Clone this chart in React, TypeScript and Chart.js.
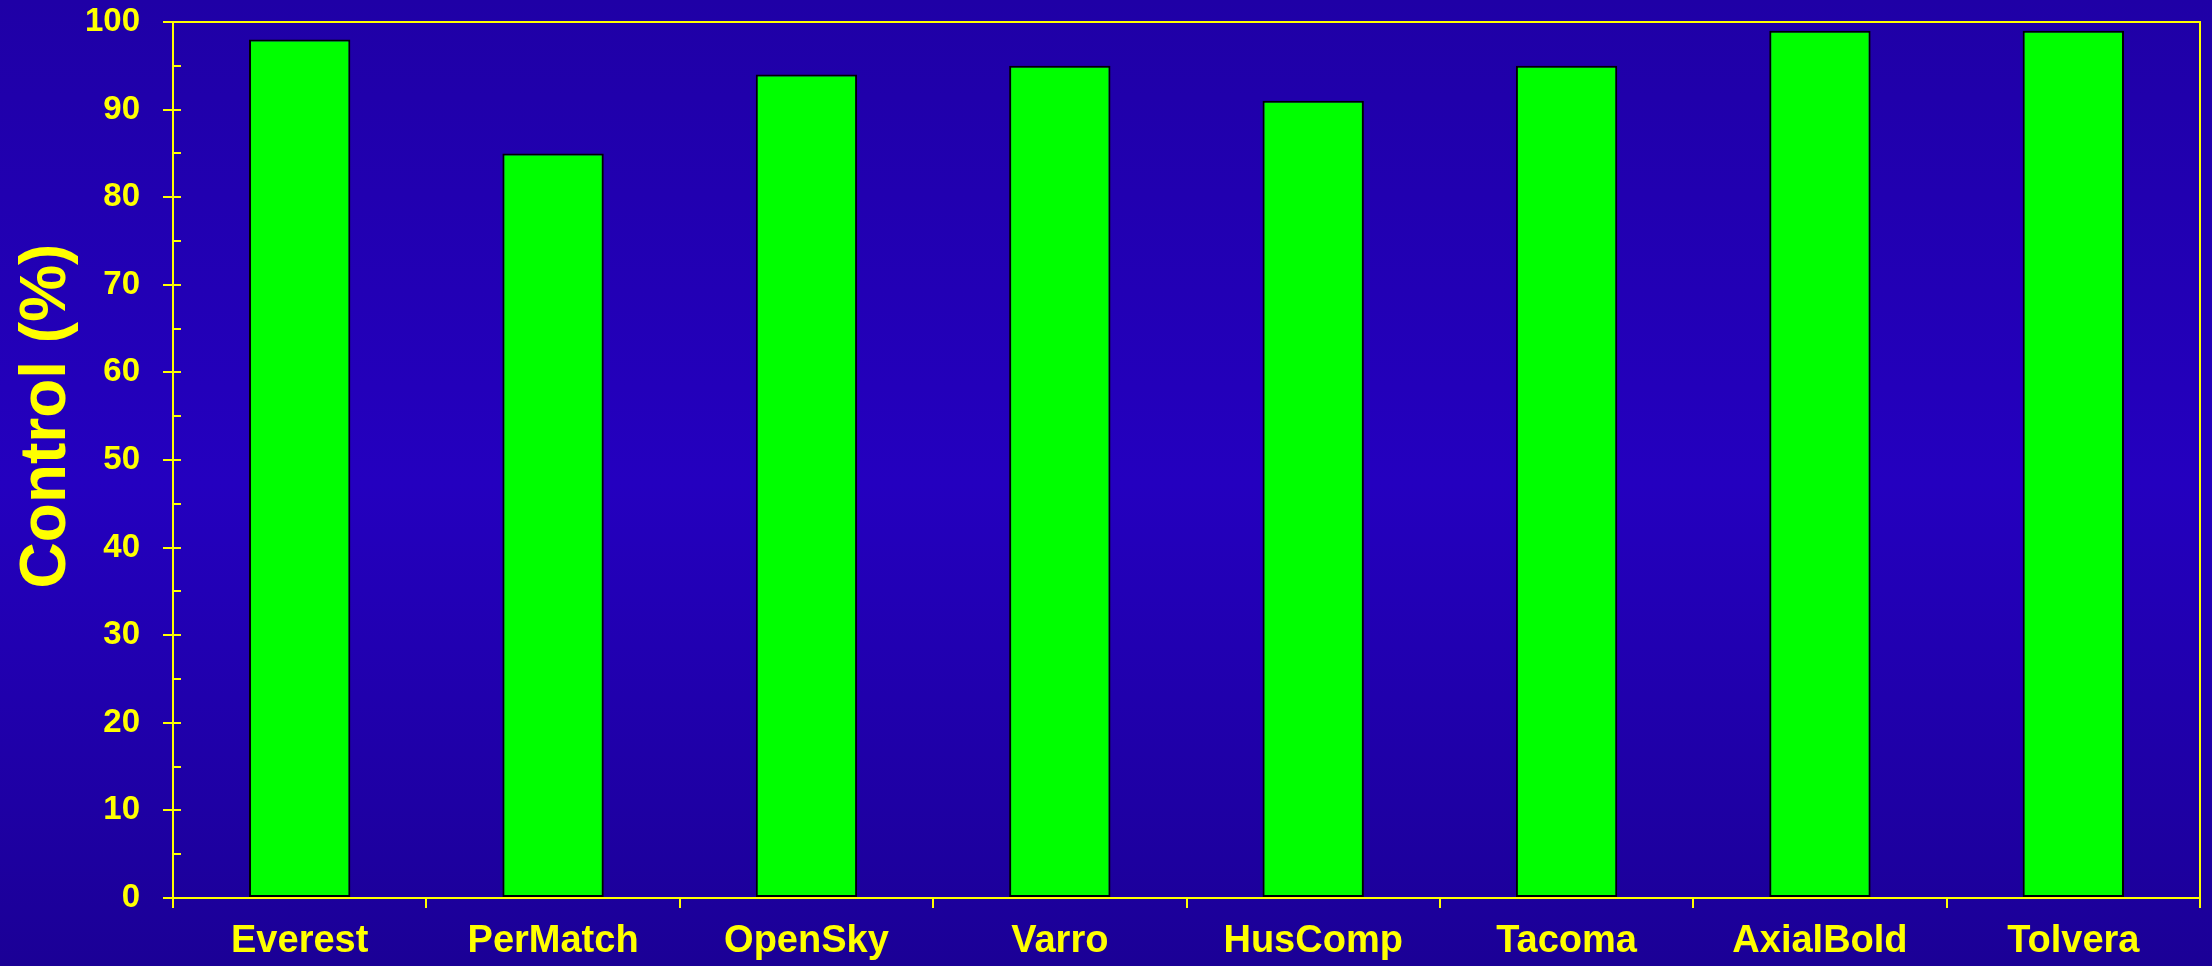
import React, { useEffect, useRef } from "react";
import { Chart, registerables } from "chart.js";

Chart.register(...registerables);

const categories = ["Everest", "PerMatch", "OpenSky", "Varro", "HusComp", "Tacoma", "AxialBold", "Tolvera"];
const controlValues = [98, 85, 94, 95, 91, 95, 99, 99];
const yAxisTitle = "Control (%)";
const yMin = 0;
const yMax = 100;
const yMajorStep = 10;
const yMinorStep = 5;

const YELLOW = "#ffff00";
const FONT = "'Liberation Sans', Arial, sans-serif";

const backgroundPlugin = {
  id: "bgGradient",
  beforeDraw(chart: any) {
    const { ctx, width, height } = chart;
    const g = ctx.createLinearGradient(0, 0, 0, height);
    g.addColorStop(0, "#1f00a6");
    g.addColorStop(0.5, "#2400bf");
    g.addColorStop(1, "#1b0096");
    ctx.save();
    ctx.fillStyle = g;
    ctx.fillRect(0, 0, width, height);
    ctx.restore();
  },
};

const framePlugin = {
  id: "frameAndMinor",
  afterDraw(chart: any) {
    const { ctx, chartArea } = chart;
    const y = chart.scales.y;
    ctx.save();
    ctx.strokeStyle = YELLOW;
    ctx.lineWidth = 2;
    // inner ticks (major + minor)
    ctx.beginPath();
    for (let v = yMin; v <= yMax; v += yMinorStep) {
      const py = Math.round(y.getPixelForValue(v));
      ctx.moveTo(chartArea.left, py);
      ctx.lineTo(chartArea.left + 8, py);
    }
    ctx.stroke();
    // top and right frame
    ctx.beginPath();
    ctx.moveTo(chartArea.left, chartArea.top);
    ctx.lineTo(chartArea.right, chartArea.top);
    ctx.lineTo(chartArea.right, chartArea.bottom);
    ctx.stroke();
    // y axis title
    ctx.fillStyle = YELLOW;
    ctx.font = `bold 64px ${FONT}`;
    ctx.textAlign = "center";
    ctx.textBaseline = "alphabetic";
    ctx.translate(65, (chartArea.top + chartArea.bottom) / 2 - 44);
    ctx.rotate(-Math.PI / 2);
    ctx.fillText(yAxisTitle, 0, 0);
    ctx.restore();
  },
};

export default function App() {
  const ref = useRef<HTMLCanvasElement | null>(null);
  useEffect(() => {
    if (!ref.current) return;
    const chart = new Chart(ref.current, {
      type: "bar",
      data: {
        labels: categories,
        datasets: [
          {
            data: controlValues,
            backgroundColor: "#00ff00",
            borderColor: "#000000",
            borderWidth: 2,
            borderSkipped: false,
            barPercentage: 0.4,
            categoryPercentage: 1,
          },
        ],
      },
      options: {
        animation: false,
        responsive: true,
        maintainAspectRatio: false,
        layout: { padding: { top: 22, right: 12, left: 0, bottom: 0 } },
        plugins: { legend: { display: false }, tooltip: { enabled: false }, title: { display: false } },
        scales: {
          x: {
            afterFit(scale: any) {
              scale.height = 68;
              scale.paddingLeft = 0;
              scale.paddingRight = 0;
            },
            grid: {
              display: true,
              drawOnChartArea: false,
              drawTicks: true,
              tickLength: 10,
              color: YELLOW,
              lineWidth: 2,
              offset: true,
            },
            border: { display: true, color: YELLOW, width: 2 },
            ticks: {
              color: YELLOW,
              font: { family: FONT, size: 38, weight: "bold" },
              padding: 11,
              maxRotation: 0,
              autoSkip: false,
            },
          },
          y: {
            min: yMin,
            max: yMax,
            afterFit(scale: any) {
              scale.width = 173;
              scale.paddingTop = 0;
              scale.paddingBottom = 0;
            },
            grid: {
              display: true,
              drawOnChartArea: false,
              drawTicks: true,
              tickLength: 10,
              color: YELLOW,
              lineWidth: 2,
            },
            border: { display: true, color: YELLOW, width: 2 },
            ticks: {
              stepSize: yMajorStep,
              color: YELLOW,
              font: { family: FONT, size: 33, weight: "bold" },
              padding: 23,
            },
          },
        },
      },
      plugins: [backgroundPlugin, framePlugin],
    } as any);
    return () => chart.destroy();
  }, []);
  return (
    <div style={{ position: "fixed", left: 0, top: 0, width: 2212, height: 966 }}>
      <canvas ref={ref} />
    </div>
  );
}
